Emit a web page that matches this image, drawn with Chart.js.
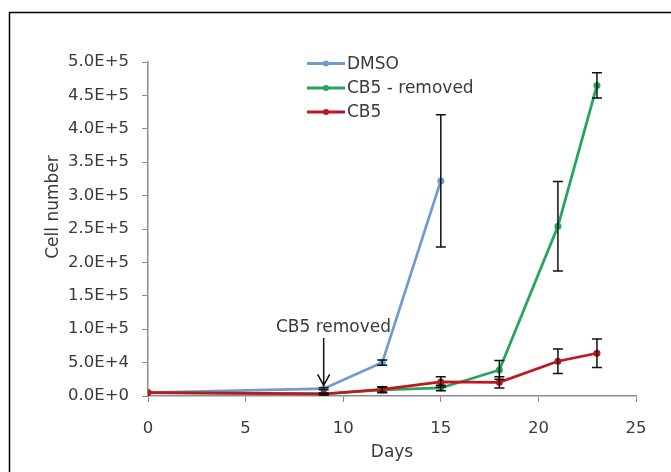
<!DOCTYPE html>
<html>
<head>
<meta charset="utf-8">
<script src="https://cdn.jsdelivr.net/npm/chart.js@4"></script>
<style>
  html, body { margin: 0; padding: 0; background: #fff; }
  #wrap { width: 671px; height: 472px; }
</style>
</head>
<body>
<div id="wrap"><canvas id="c" width="671" height="472"></canvas></div>
<script>
// growth curves, mean cell counts with SD
const dmsoDays = [0, 9, 12, 15];
const dmsoCells = [5000, 11000, 50000, 322000];
const dmsoErr = [0, 1500, 4000, 99000];

const removedDays = [0, 9, 12, 15, 18, 21, 23];
const removedCells = [5000, 3000, 9000, 12000, 39000, 254000, 465000];
const removedErr = [0, 1000, 4000, 4000, 14000, 67000, 19000];

const cb5Days = [0, 9, 12, 15, 18, 21, 23];
const cb5Cells = [5000, 3000, 10000, 21000, 20500, 52000, 64000];
const cb5Err = [0, 1000, 4000, 8000, 8500, 18500, 21500];

const xTicks = [0, 5, 10, 15, 20, 25];
const yMax = 500000;

const FONT = "DejaVu Sans";
const TEXT = "#3a3a3a";
const AXIS = "#8c8c8c";

const pts = (xs, ys) => xs.map((d, i) => ({ x: d, y: ys[i] }));

const series = [
  { label: "DMSO", days: dmsoDays, cells: dmsoCells, err: dmsoErr, color: "#6f9bd1", order: 2 },
  { label: "CB5 - removed", days: removedDays, cells: removedCells, err: removedErr, color: "#22a65c", order: 1 },
  { label: "CB5", days: cb5Days, cells: cb5Cells, err: cb5Err, color: "#c0171f", order: 0 }
];

// outer frame (only left/top edges fall inside the canvas)
const frame = {
  id: "frame",
  beforeDraw(chart) {
    const ctx = chart.ctx;
    ctx.save();
    ctx.fillStyle = "#fff";
    ctx.fillRect(0, 0, chart.width, chart.height);
    ctx.strokeStyle = "#000";
    ctx.lineWidth = 1.5;
    ctx.beginPath();
    ctx.moveTo(9.5, chart.height + 2);
    ctx.lineTo(9.5, 12.5);
    ctx.lineTo(chart.width + 2, 12.5);
    ctx.stroke();
    ctx.restore();
  }
};

// SD whiskers
const errorBars = {
  id: "errorBars",
  afterDatasetsDraw(chart) {
    const { ctx, scales: { x, y } } = chart;
    ctx.save();
    ctx.strokeStyle = "#111";
    ctx.lineWidth = 1.5;
    series.forEach(s => {
      s.days.forEach((d, i) => {
        const e = s.err[i];
        if (!e) return;
        const px = x.getPixelForValue(d);
        const top = y.getPixelForValue(s.cells[i] + e);
        const bot = y.getPixelForValue(s.cells[i] - e);
        ctx.beginPath();
        ctx.moveTo(px, top); ctx.lineTo(px, bot);
        ctx.moveTo(px - 5, top); ctx.lineTo(px + 5, top);
        ctx.moveTo(px - 5, bot); ctx.lineTo(px + 5, bot);
        ctx.stroke();
      });
    });
    ctx.restore();
  }
};

// legend, arrow note and y title
const extras = {
  id: "extras",
  afterDraw(chart) {
    const { ctx, scales: { x, y } } = chart;
    ctx.save();
    ctx.font = "17px '" + FONT + "'";
    ctx.textBaseline = "middle";
    ctx.fillStyle = TEXT;

    // legend
    const rows = [63.5, 88, 112];
    series.forEach((s, i) => {
      const ly = rows[i];
      ctx.strokeStyle = s.color;
      ctx.lineWidth = 3;
      ctx.beginPath();
      ctx.moveTo(307, ly); ctx.lineTo(345, ly);
      ctx.stroke();
      ctx.fillStyle = s.color;
      ctx.beginPath();
      ctx.arc(326, ly, 3, 0, Math.PI * 2);
      ctx.fill();
      ctx.fillStyle = TEXT;
      ctx.textAlign = "left";
      ctx.fillText(s.label, 347, ly + 1);
    });

    // CB5 removed arrow at day 9
    const ax = x.getPixelForValue(9);
    ctx.textAlign = "center";
    ctx.fillText("CB5 removed", x.getPixelForValue(9.5), y.getPixelForValue(102000));
    const a0 = y.getPixelForValue(87000);
    const a1 = y.getPixelForValue(16000);
    ctx.strokeStyle = "#111";
    ctx.lineWidth = 1.5;
    ctx.beginPath();
    ctx.moveTo(ax, a0); ctx.lineTo(ax, a1);
    ctx.moveTo(ax - 6, a1 - 11); ctx.lineTo(ax, a1); ctx.lineTo(ax + 6, a1 - 11);
    ctx.stroke();

    // y axis title
    ctx.translate(54, 207);
    ctx.rotate(-Math.PI / 2);
    ctx.fillText("Cell number", 0, 0);
    ctx.restore();
  }
};

new Chart(document.getElementById("c"), {
  type: "line",
  data: {
    datasets: series.map(s => ({
      label: s.label,
      data: pts(s.days, s.cells),
      borderColor: s.color,
      backgroundColor: s.color,
      borderWidth: 2.75,
      pointRadius: 3.5,
      pointBorderWidth: 0,
      tension: 0,
      order: s.order
    }))
  },
  options: {
    responsive: false,
    animation: false,
    layout: { padding: { left: 0, right: 35, top: 62, bottom: 0 } },
    plugins: {
      legend: { display: false },
      tooltip: { enabled: false }
    },
    scales: {
      x: {
        type: "linear",
        min: 0,
        max: 25,
        afterBuildTicks: sc => { sc.ticks = xTicks.map(v => ({ value: v })); },
        afterFit: sc => { sc.height = 76; sc.paddingLeft = 0; sc.paddingRight = 0; },
        grid: { drawOnChartArea: false, drawTicks: true, tickLength: 6, color: AXIS },
        border: { color: AXIS, width: 1.5 },
        ticks: { color: TEXT, font: { family: FONT, size: 16.5 }, padding: 17, maxRotation: 0 },
        title: { display: true, text: "Days", color: TEXT, font: { family: FONT, size: 17 }, padding: { top: 2, bottom: 9 } }
      },
      y: {
        min: 0,
        max: yMax,
        ticks: {
          stepSize: 50000,
          color: TEXT,
          font: { family: FONT, size: 16.5 },
          padding: 13,
          callback: v => v.toExponential(1).toUpperCase()
        },
        afterFit: sc => { sc.width = 148; sc.paddingTop = 0; sc.paddingBottom = 0; },
        grid: { drawOnChartArea: false, drawTicks: true, tickLength: 6, color: AXIS },
        border: { color: AXIS, width: 1.5 }
      }
    }
  },
  plugins: [frame, errorBars, extras]
});
</script>
</body>
</html>
